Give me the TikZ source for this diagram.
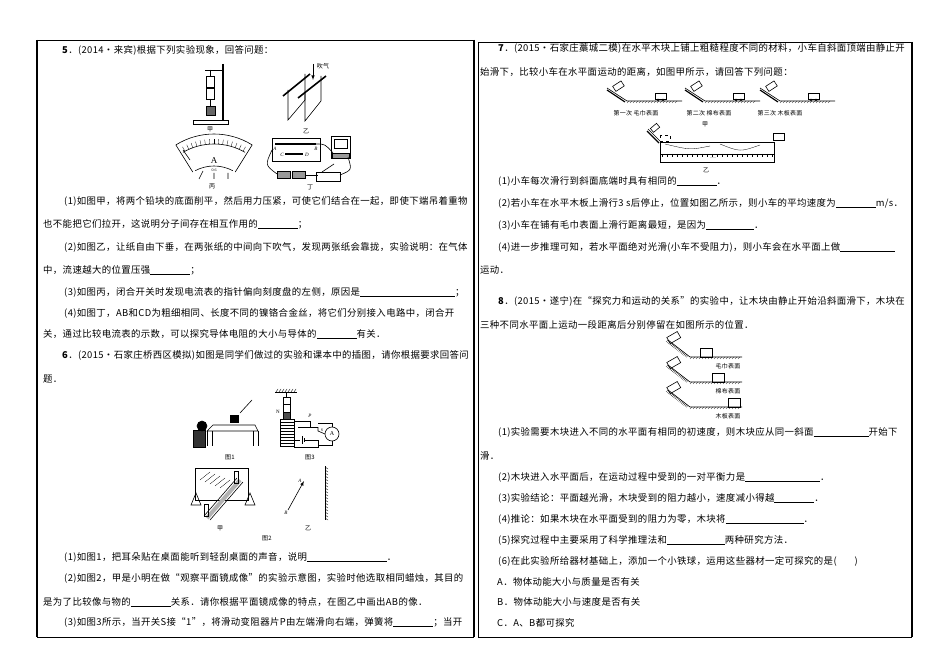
\documentclass[tikz,border=0pt]{standalone}
\usepackage{fontspec}
\setmainfont{Liberation Serif}
\newfontfamily\cjk[LetterSpace=4]{Noto Sans CJK SC}
\newcommand{\blank}[1]{\rule[-1pt]{#1pt}{0.4pt}}
\begin{document}
\begin{tikzpicture}[x=1pt,y=-1pt,
  tx/.style={anchor=west,inner sep=0pt,font=\cjk\fontsize{9.4}{11}\selectfont},
  sm/.style={inner sep=0pt,font=\cjk\fontsize{6}{7}\selectfont},
  fig/.style={line width=0.6pt},
  thickw/.style={line width=1.6pt}]
\useasboundingbox (0,0) rectangle (950,671);
% frames
\draw[line width=1.6pt] (37,40) -- (37,637);
\draw[line width=0.8pt] (37,40) -- (474,40);
\draw[line width=0.8pt] (37,637) -- (474,637);
\draw[line width=1.6pt] (474,40) -- (474,637);
\draw[line width=0.6pt] (478,42) -- (478,637);
\draw[line width=0.8pt] (478,42) -- (912,42) (478,637) -- (912,637);
\draw[line width=1.6pt] (912,42) -- (912,637);

% ---------- left panel text
\node[tx] (t1) at (62,50) {\textbf{5}．(2014·来宾)根据下列实验现象，回答问题：};
\node[tx] (t2) at (64,201) {(1)如图甲，将两个铅块的底面削平，然后用力压紧，可使它们结合在一起，即使下端吊着重物};
\node[tx] (t3) at (43,224) {也不能把它们拉开，这说明分子间存在相互作用的\blank{40}；};
\node[tx] (t4) at (64,247) {(2)如图乙，让纸自由下垂，在两张纸的中间向下吹气，发现两张纸会靠拢，实验说明：在气体};
\node[tx] (t5) at (43,270) {中，流速越大的位置压强\blank{40}；};
\node[tx] (t6) at (64,292) {(3)如图丙，闭合开关时发现电流表的指针偏向刻度盘的左侧，原因是\blank{95}；};
\node[tx] (t7) at (64,313) {(4)如图丁，AB和CD为粗细相同、长度不同的镍铬合金丝，将它们分别接入电路中，闭合开};
\node[tx] (t8) at (43,334) {关，通过比较电流表的示数，可以探究导体电阻的大小与导体的\blank{40}有关．};
\node[tx] (t9) at (62,355) {\textbf{6}．(2015·石家庄桥西区模拟)如图是同学们做过的实验和课本中的插图，请你根据要求回答问};
\node[tx] (t10) at (43,379) {题．};
\node[tx] (t11) at (64,557) {(1)如图1，把耳朵贴在桌面能听到轻刮桌面的声音，说明\blank{80}．};
\node[tx] (t12) at (64,578) {(2)如图2，甲是小明在做“观察平面镜成像”的实验示意图，实验时他选取相同蜡烛，其目的};
\node[tx] (t13) at (43,602) {是为了比较像与物的\blank{40}关系．请你根据平面镜成像的特点，在图乙中画出AB的像．};
\node[tx] (t14) at (64,622) {(3)如图3所示，当开关S接“1”，将滑动变阻器片P由左端滑向右端，弹簧将\blank{40}；当开};

% ---------- fig 甲 (lead blocks)
\draw[fig,fill=white] (193,120) rectangle (228,124);
\draw[thickw] (223,64) -- (223,120);
\draw[fig] (205,70) -- (223,70);
\draw[fig] (210,70) -- (210,76);
\draw[fig] (206,76) rectangle (214,87);
\draw[fig] (206,88) rectangle (214,99);
\draw[fig] (210,99) -- (210,106);
\draw[fig,fill=black!60] (206,106) rectangle (215,115);
\node[sm] (lj) at (210,129) {甲};
% fig 乙 (papers)
\draw[fig] (288,90) -- (288,120) -- (305,100) -- (305,74);
\draw[fig] (305,92) -- (305,121) -- (321,101) -- (321,76);
\draw[thickw] (283,96) -- (310,74);
\draw[thickw] (298,98) -- (326,76);
\draw[fig,-latex] (313,64) -- (313,80);
\node[sm] (lq) at (323,66) {吹气};
\node[sm] (ly) at (306,131) {乙};
% fig 丙 (ammeter)
\draw[fig] (214,206) ++(238:72) arc (238:302:72);
\draw[fig] (214,206) ++(242:40) arc (242:298:40);
\draw[fig] (214,206) ++(240:62) arc (240:300:62);
\foreach \a in {242,246,...,298} \draw[line width=0.3pt] (214,206) ++(\a:62) -- ++(\a:5);
\draw[fig] (214,206) ++(238:72) -- ++(58:32);
\draw[fig] (214,206) ++(302:72) -- ++(122:32);
\node[sm,font=\fontsize{9}{9}\selectfont] (la) at (214,161) {A};
\draw[fig] (190,160) -- (183,150);
\node[sm,font=\fontsize{4}{4}\selectfont] at (214,170) {0.6};
\draw[fig] (199,179) -- (203,171) (214,179) -- (214,173) (228,179) -- (228,173);
\node[sm] (lb) at (212,186) {丙};
% fig 丁
\draw[fig] (272,138) rectangle (320,161);
\draw[thickw] (275,144) -- (316,144);
\draw[thickw] (285,154) -- (303,154);
\node[sm,font=\itshape\fontsize{5}{5}\selectfont] at (275,149) {A};
\node[sm,font=\itshape\fontsize{5}{5}\selectfont] at (316,149) {B};
\node[sm,font=\itshape\fontsize{5}{5}\selectfont] at (282,155) {C};
\node[sm,font=\itshape\fontsize{5}{5}\selectfont] at (307,155) {D};
\draw[fig] (331,136) rectangle (350,158);
\draw[fig] (334,139) rectangle (347,148);
\draw[fig,fill=black!40] (332,153) rectangle (349,158);
\draw[fig,fill=black!40] (277,171) rectangle (290,178);
\draw[fig,fill=black!40] (292,171) rectangle (305,178);
\draw[fig] (316,172) rectangle (340,181);
\draw[fig] (322,172) -- (334,164);
\draw[fig] (316,144) .. controls (325,144) .. (333,153);
\draw[fig] (272,150) .. controls (265,165) .. (277,174);
\draw[fig] (305,175) -- (318,175);
\draw[fig] (340,175) .. controls (352,170) .. (348,157);
\node[sm] (ld) at (310,187) {丁};

% ---------- 图1
\draw[fig] (213,425) -- (255,425) -- (258,431) -- (207,431) -- cycle;
\draw[fig] (207,431) -- (207,446) (258,431) -- (258,446) (212,431)--(212,446) (253,431)--(253,446);
\draw[fig,fill=black] (230,415) rectangle (238,422);
\draw[fig] (240,413) -- (252,400);
\draw[fig,fill=black!80] (193,430) rectangle (205,447);
\draw[fig,fill=black] (202,426) circle (5);
\node[sm] (f1) at (230,457) {图1};
% 图3
\draw[fig] (275,392) -- (297,392);
\foreach \x in {276,279,...,296} \draw[line width=0.3pt] (\x,392) -- (\x+2,389);
\draw[fig] (286,392) -- (286,397);
\draw[fig] (283,397) rectangle (290,404);
\draw[fig] (283,404) rectangle (290,412);
\draw[fig,fill=black!70] (283,412) rectangle (290,419);
\node[sm,font=\fontsize{5}{5}\selectfont] at (278,412) {N};
\draw[fig] (280,419) rectangle (294,446);
\foreach \y in {422,425,...,444} \draw[line width=0.4pt] (280,\y) -- (294,\y);
\draw[fig] (298,427) -- (318,427);
\draw[fig] (294,421) -- (310,421) -- (310,427);
\node[sm,font=\itshape\fontsize{5}{5}\selectfont] at (310,416) {P};
\draw[fig] (294,440) -- (300,440) (302,436) -- (302,444) (304,438)--(304,442) (304,440) -- (318,440) -- (318,447) -- (294,447);
\draw[fig] (318,427) -- (318,431) -- (325,434);
\draw[fig] (318,423) -- (332,423) -- (332,427);
\draw[fig] (332,434) circle (7);
\node[sm,font=\fontsize{6}{6}\selectfont] at (332,434) {A};
\draw[fig] (332,441) -- (332,445) -- (318,445);
\node[sm,font=\fontsize{4}{4}\selectfont] at (322,430) {S};
\node[sm] (f3) at (310,457) {图3};
% 图2 甲
\draw[fig] (195,468) rectangle (248,500);
\foreach \i in {0,...,4} \draw[line width=0.3pt] (200+\i*5,480+\i*2) -- (210+\i*5,472+\i*2);
\draw[line width=4pt,black!30] (207,518) -- (240,480);
\draw[fig] (204,516) -- (237,478) (210,520) -- (243,482);
\draw[fig] (191,505) -- (196,493) -- (201,505) -- cycle;
\draw[fig] (245,505) -- (250,493) -- (255,505) -- cycle;
\draw[fig] (204,504) rectangle (208,516);
\draw[fig] (234,471) rectangle (238,483);
\node[sm] (g2a) at (220,528) {甲};
% 图2 乙
\draw[fig,-latex] (288,510) -- (304,481);
\node[sm,font=\itshape\fontsize{5}{5}\selectfont] at (300,481) {A};
\node[sm,font=\itshape\fontsize{5}{5}\selectfont] at (286,513) {B};
\draw[fig] (325,466) -- (325,520);
\foreach \y in {467,470,...,518} \draw[line width=0.3pt] (325,\y) -- (328,\y+2);
\node[sm] (g2b) at (308,528) {乙};
\node[sm] (g2) at (267,538) {图2};

% ---------- right panel text
\node[tx] (r1) at (498,48) {\textbf{7}．(2015·石家庄藁城二模)在水平木块上铺上粗糙程度不同的材料，小车自斜面顶端由静止开};
\node[tx] (r2) at (480,72) {始滑下，比较小车在水平面运动的距离，如图甲所示，请回答下列问题：};
\node[tx] (r3) at (498,181) {(1)小车每次滑行到斜面底端时具有相同的\blank{40}．};
\node[tx] (r4) at (498,203) {(2)若小车在水平木板上滑行3 s后停止，位置如图乙所示，则小车的平均速度为\blank{40}m/s．};
\node[tx] (r5) at (498,225) {(3)小车在铺有毛巾表面上滑行距离最短，是因为\blank{48}．};
\node[tx] (r6) at (498,247) {(4)进一步推理可知，若水平面绝对光滑(小车不受阻力)，则小车会在水平面上做\blank{55}};
\node[tx] (r7) at (480,270) {运动．};
\node[tx] (r8) at (498,301) {\textbf{8}．(2015·遂宁)在“探究力和运动的关系”的实验中，让木块由静止开始沿斜面滑下，木块在};
\node[tx] (r9) at (480,325) {三种不同水平面上运动一段距离后分别停留在如图所示的位置．};
\node[tx] (r10) at (498,432) {(1)实验需要木块进入不同的水平面有相同的初速度，则木块应从同一斜面\blank{55}开始下};
\node[tx] (r11) at (480,456) {滑．};
\node[tx] (r12) at (498,477) {(2)木块进入水平面后，在运动过程中受到的一对平衡力是\blank{75}．};
\node[tx] (r13) at (498,498) {(3)实验结论：平面越光滑，木块受到的阻力越小，速度减小得越\blank{40}．};
\node[tx] (r14) at (498,519) {(4)推论：如果木块在水平面受到的阻力为零，木块将\blank{78}．};
\node[tx] (r15) at (498,540) {(5)探究过程中主要采用了科学推理法和\blank{58}两种研究方法．};
\node[tx] (r16) at (498,561) {(6)在此实验所给器材基础上，添加一个小铁球，运用这些器材一定可探究的是(\hspace{18pt})};
\node[tx] (r17) at (497,582) {A．物体动能大小与质量是否有关};
\node[tx] (r18) at (497,602) {B．物体动能大小与速度是否有关};
\node[tx] (r19) at (497,623) {C．A、B都可探究};

% fig 7 甲
\foreach \x/\c in {607/655,685/733,760/808}{
  \draw[fig] (\x,88) -- (\x+20,101) -- (\x+75,101);
  \foreach \k in {0,3,...,50} \draw[line width=0.3pt] (\x+22+\k,101) -- (\x+20+\k,103);
  \draw[line width=1.2pt] (\x,90) -- (\x+18,102);
  \draw[fig,rotate around={33:(\x+12,87)}] (\x+7,83) rectangle (\x+17,89);
  \draw[fig] (\c,93) rectangle (\c+11,99);
  \draw[fig] (\c+3,100) circle (1) (\c+8,100) circle (1);
}
\node[sm] (m1) at (636,113) {第一次\ 毛巾表面};
\node[sm] (m2) at (709,113) {第二次\ 棉布表面};
\node[sm] (m3) at (780,113) {第三次\ 木板表面};
\node[sm] (mj) at (705,124) {甲};
% fig 7 乙
\draw[fig] (648,129) -- (660,141);
\draw[line width=1.2pt] (647,131) -- (659,143);
\draw[fig,rotate around={40:(656,129)}] (652,125) rectangle (660,130);
\draw[fig,dashed] (660,135) rectangle (670,141);
\draw[fig] (660,142) rectangle (774,154);
\draw[fig] (660,154) rectangle (774,162);
\foreach \x in {662,667,...,772} \draw[line width=0.3pt] (\x,154) -- (\x,157);
\draw[line width=0.3pt] (665,144) .. controls (690,150) .. (710,146) (720,144) .. controls (740,152) .. (760,145);
\node[sm,font=\fontsize{4}{4}\selectfont] at (713,158) {......};
\draw[fig] (773,133) rectangle (784,140);
\node[sm] (yj) at (706,170) {乙};
% fig 8
\foreach \y/\b/\lab in {357/700/毛巾表面,382/712/棉布表面,407/728/木板表面}{
  \draw[fig] (668,\y-17) -- (690,\y) -- (742,\y);
  \foreach \k in {0,3,...,50} \draw[line width=0.3pt] (668+\k*0.42,\y-17+\k*0.32) -- (666+\k*0.42,\y-15+\k*0.32);
  \foreach \k in {0,3,...,50} \draw[line width=0.3pt] (692+\k,\y) -- (690+\k,\y+2);
  \draw[fig,rotate around={30:(674,\y-19)}] (668,\y-23) rectangle (680,\y-16);
  \draw[fig] (\b,\y-9) rectangle (\b+12,\y);
  \node[sm] at (728,\y+9) {\lab};
}
\end{tikzpicture}
\end{document}
